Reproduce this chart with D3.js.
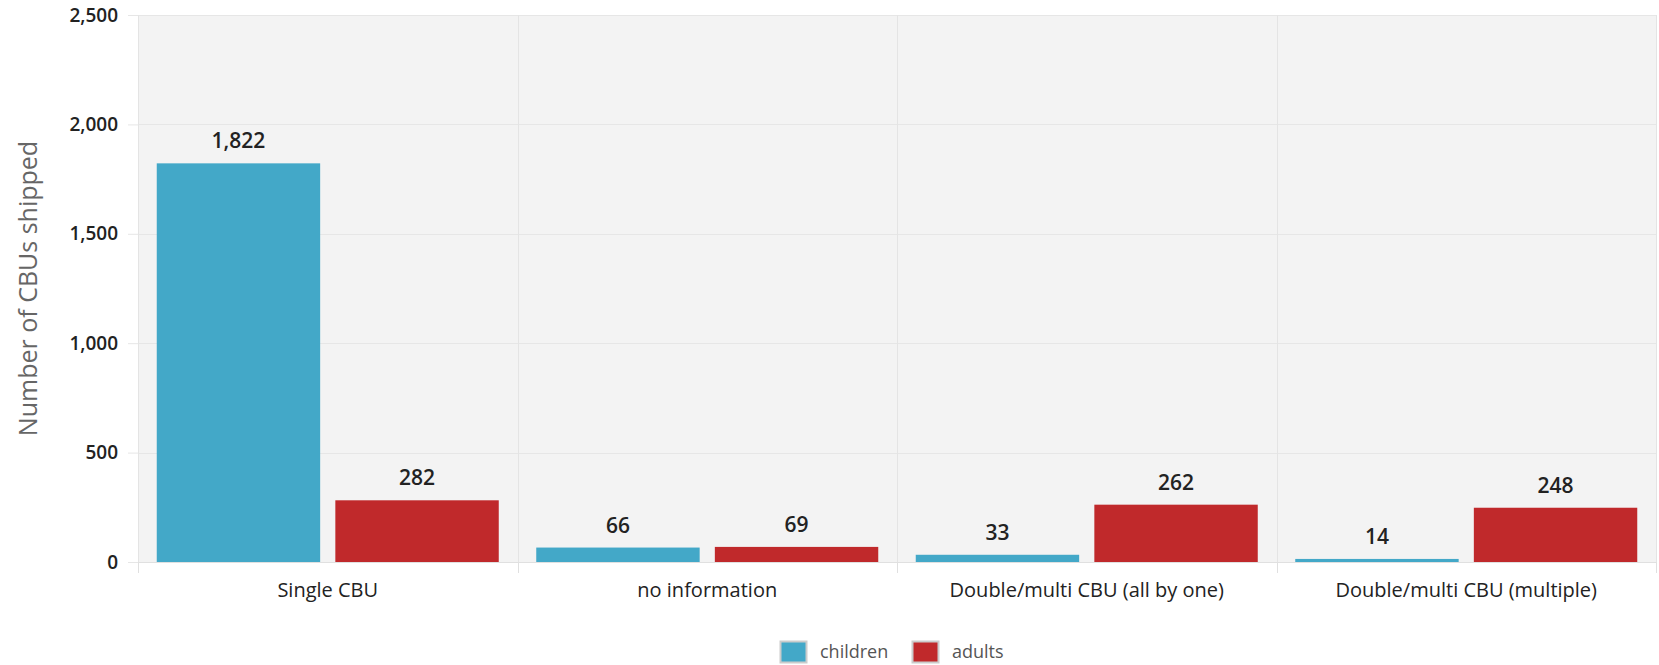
<!doctype html>
<html lang="en">
<head>
<meta charset="UTF-8">
<title>CBUs shipped</title>
<style>
  body { margin: 0; background: #fff; }
  svg, svg text { font-family: "Open Sans", "Noto Sans", sans-serif; }
</style>
</head>
<body>
<div id="chart"></div>
<script src="https://d3js.org/d3.v7.min.js"></script>
<script>
    const categories = ['Single CBU', 'no information', 'Double/multi CBU (all by one)', 'Double/multi CBU (multiple)']
    const seriesNames = ['children', 'adults']
    const children = [1822, 66, 33, 14]
    const adults = [282, 69, 262, 248]
    const seriesColors = ['#43a8c8', '#c0292b']
    const yTicks = [0, 500, 1000, 1500, 2000, 2500]

    const W = 1659, H = 665
    const margin = { top: 15, right: 3, bottom: 103, left: 138 }
    const width = W - margin.left - margin.right
    const height = H - margin.top - margin.bottom

    const svg = d3.select('#chart').append('svg')
        .attr('width', W).attr('height', H)
    const g = svg.append('g')
        .attr('transform', 'translate(' + margin.left + ',' + margin.top + ')')

    const x = d3.scaleBand().domain(categories).range([0, width]).paddingInner(0).paddingOuter(0)
    const xInner = d3.scaleBand().domain(seriesNames).range([0, x.bandwidth()])
        .paddingInner(0.085).paddingOuter(0.105)
    const y = d3.scaleLinear().domain([0, 2500]).range([height, 0])

    // plot background
    g.append('rect').attr('width', width).attr('height', height).attr('fill', '#f3f3f3')

    // horizontal grid
    g.selectAll('.hgrid').data(yTicks).enter().append('line')
        .attr('x1', 0).attr('x2', width)
        .attr('y1', d => Math.round(y(d)) + 0.5).attr('y2', d => Math.round(y(d)) + 0.5)
        .attr('stroke', '#e6e6e6')

    // vertical grid at category boundaries
    const bounds = categories.map(c => x(c)).concat([width])
    g.selectAll('.vgrid').data(bounds).enter().append('line')
        .attr('x1', d => Math.round(d) + 0.5).attr('x2', d => Math.round(d) + 0.5)
        .attr('y1', 0).attr('y2', height)
        .attr('stroke', '#e4e4e4')

    // y axis
    const yAxis = g.append('g')
        .call(d3.axisLeft(y).tickValues(yTicks).tickSize(10).tickPadding(10)
            .tickFormat(d3.format(',')))
    yAxis.attr('font-family', null)
    yAxis.select('.domain').remove()
    yAxis.selectAll('line').attr('stroke', '#e6e6e6')
    yAxis.selectAll('text').attr('font-size', 19).attr('font-weight', 600).attr('fill', '#222')

    // x axis
    const xAxis = g.append('g').attr('transform', 'translate(0,' + height + ')')
        .call(d3.axisBottom(x).tickSize(0).tickPadding(21))
    xAxis.attr('font-family', null)
    xAxis.select('.domain').attr('stroke', '#e0e0e0')
    xAxis.selectAll('text').attr('font-size', 20).attr('fill', '#222')
    g.selectAll('.xtick').data(bounds).enter().append('line')
        .attr('x1', d => Math.round(d) + 0.5).attr('x2', d => Math.round(d) + 0.5)
        .attr('y1', height).attr('y2', height + 11)
        .attr('stroke', '#e0e0e0')

    // bars
    const rows = categories.map((c, i) => ({ cat: c, values: [children[i], adults[i]] }))
    const groups = g.selectAll('.grp').data(rows).enter().append('g')
        .attr('transform', d => 'translate(' + x(d.cat) + ',0)')
    groups.selectAll('rect').data(d => d.values.map((v, j) => ({ v: v, s: seriesNames[j], j: j })))
        .enter().append('rect')
        .attr('x', d => xInner(d.s))
        .attr('y', d => y(d.v))
        .attr('width', xInner.bandwidth())
        .attr('height', d => height - y(d.v))
        .attr('fill', d => seriesColors[d.j])
    groups.selectAll('text').data(d => d.values.map((v, j) => ({ v: v, s: seriesNames[j] })))
        .enter().append('text')
        .attr('x', d => xInner(d.s) + xInner.bandwidth() / 2)
        .attr('y', d => y(d.v) - 15)
        .attr('text-anchor', 'middle')
        .attr('font-size', 21).attr('font-weight', 600).attr('fill', '#222')
        .text(d => d3.format(',')(d.v))

    // y axis title
    svg.append('text')
        .attr('transform', 'translate(37,' + (margin.top + height / 2) + ') rotate(-90)')
        .attr('text-anchor', 'middle')
        .attr('font-size', 25).attr('fill', '#666')
        .text('Number of CBUs shipped')

    // legend
    const legend = svg.append('g').attr('transform', 'translate(780,641)')
    const items = [{ n: 'children', x: 0 }, { n: 'adults', x: 132 }]
    items.forEach((it, i) => {
        legend.append('rect').attr('x', it.x + 0.5).attr('y', 0.5).attr('width', 26).attr('height', 21)
            .attr('fill', seriesColors[i]).attr('stroke', '#ccc').attr('stroke-width', 2)
        legend.append('text').attr('x', it.x + 40).attr('y', 17)
            .attr('font-size', 18).attr('fill', '#555').text(it.n)
    })
</script>
</body>
</html>
